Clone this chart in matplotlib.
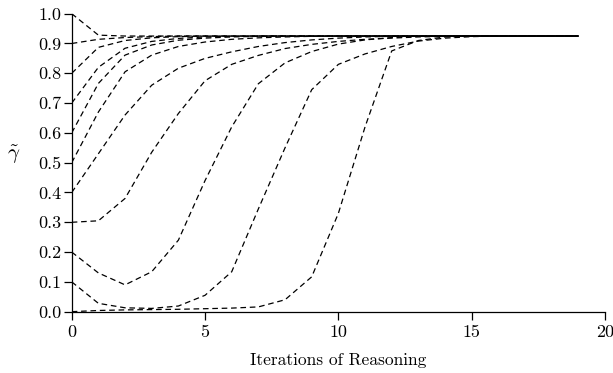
import matplotlib
matplotlib.use("Agg")
import matplotlib.pyplot as plt
import numpy as np

plt.rcParams['font.family'] = 'serif'
plt.rcParams['font.serif'] = ['cmr10', 'DejaVu Serif']
plt.rcParams['mathtext.fontset'] = 'cm'
plt.rcParams['axes.formatter.use_mathtext'] = True

iterations = list(range(20))
steady = 0.925

start_10 = [1.0, 0.928]
start_09 = [0.9, 0.914, 0.92, 0.923]
start_08 = [0.8, 0.887, 0.91, 0.919, 0.923]
start_07 = [0.7, 0.82, 0.884, 0.907, 0.917, 0.922, 0.924]
start_06 = [0.6, 0.766, 0.861, 0.895, 0.911, 0.918, 0.922, 0.924]
start_05 = [0.5, 0.67, 0.805, 0.861, 0.89, 0.905, 0.914, 0.919, 0.922, 0.924]
start_04 = [0.4, 0.53, 0.66, 0.76, 0.817, 0.85, 0.872, 0.89, 0.903, 0.912, 0.918, 0.922, 0.924]
start_03 = [0.3, 0.305, 0.38, 0.535, 0.665, 0.775, 0.83, 0.86, 0.883, 0.897, 0.907, 0.914, 0.918, 0.922, 0.924]
start_02 = [0.2, 0.13, 0.09, 0.134, 0.24, 0.44, 0.62, 0.765, 0.835, 0.873, 0.898, 0.912, 0.92, 0.924]
start_01 = [0.1, 0.028, 0.013, 0.011, 0.019, 0.055, 0.134, 0.345, 0.55, 0.745, 0.83, 0.865, 0.89, 0.908, 0.918, 0.923]
start_00 = [0.0, 0.004, 0.006, 0.007, 0.008, 0.01, 0.012, 0.016, 0.04, 0.117, 0.33, 0.62, 0.875, 0.91, 0.922]

series = [start_10, start_09, start_08, start_07, start_06, start_05,
          start_04, start_03, start_02, start_01, start_00]

x_ticks = [0, 5, 10, 15, 20]
y_ticks = [0.0, 0.1, 0.2, 0.3, 0.4, 0.5, 0.6, 0.7, 0.8, 0.9, 1.0]

fig = plt.figure(figsize=(6.13, 3.73), dpi=100)
ax = fig.add_axes([0.117, 0.1644, 0.870, 0.7989])

for s in series:
    vals = list(s) + [steady] * (len(iterations) - len(s))
    ax.plot(iterations, vals, color='black', lw=0.9, linestyle=(0, (4.5, 3)))

ax.set_xlim(0, 20)
ax.set_ylim(0, 1.0)
ax.set_xticks(x_ticks)
ax.set_yticks(y_ticks)
ax.set_xticklabels([str(t) for t in x_ticks])
ax.set_yticklabels([f"{t:.1f}" for t in y_ticks])
for sp in ['top', 'right']:
    ax.spines[sp].set_visible(False)
ax.spines['left'].set_linewidth(0.9)
ax.spines['bottom'].set_linewidth(0.9)
ax.tick_params(direction='out', length=5.5, width=0.9, labelsize=13, pad=2)
ax.tick_params(axis='x', pad=4)
ax.set_xlabel('Iterations of Reasoning', fontsize=12.5, labelpad=9)
ax.text(-0.108, 0.526, r'$\tilde{\gamma}$', transform=ax.transAxes,
        fontsize=15, rotation=0, va='center', ha='center')

fig.savefig('out.png', dpi=100)
